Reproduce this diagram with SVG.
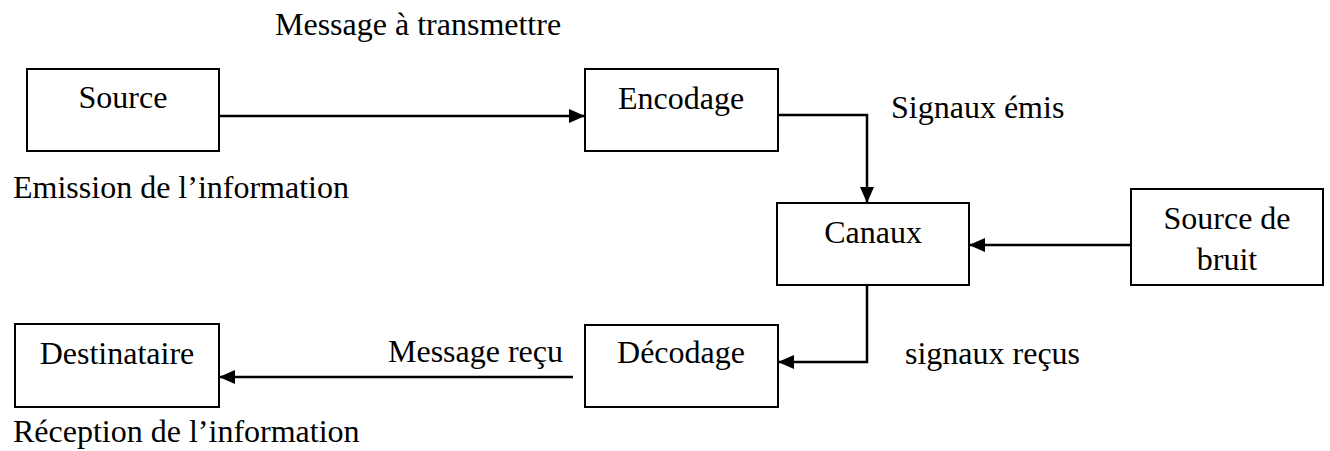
<svg xmlns="http://www.w3.org/2000/svg" width="1330" height="451" viewBox="0 0 1330 451">
  <style>
    .box { fill: #ffffff; stroke: #000000; stroke-width: 2; }
    .lbl { font-family: "Liberation Serif", "Times New Roman", serif; font-size: 32px; fill: #000000; }
    .mid { text-anchor: middle; }
    .end { text-anchor: end; }
    .conn { fill: none; stroke: #000000; stroke-width: 2.5; marker-end: url(#arrow); }
  </style>
  <defs>
    <marker id="arrow" markerUnits="userSpaceOnUse" markerWidth="17" markerHeight="15" refX="16" refY="7" orient="auto">
      <path d="M0,0 L16,7 L0,14 z" fill="#000000"/>
    </marker>
  </defs>
  <rect width="1330" height="451" fill="#ffffff"/>

  <g id="connectors">
    <path class="conn" d="M219,116 L585,116"/>
    <path class="conn" d="M778,115 L867,115 L867,203"/>
    <path class="conn" d="M1131,245 L969,245"/>
    <path class="conn" d="M867,285 L867,362 L778,362"/>
    <path class="conn" d="M573,377 L219,377"/>
  </g>

  <g id="source">
    <rect class="box" x="27" y="69" width="192" height="82"/>
    <text class="lbl mid" x="123" y="108">Source</text>
  </g>
  <g id="encodage">
    <rect class="box" x="585" y="69" width="193" height="82"/>
    <text class="lbl mid" x="681" y="109">Encodage</text>
  </g>
  <g id="canaux">
    <rect class="box" x="777" y="203" width="192" height="82"/>
    <text class="lbl mid" x="873" y="243">Canaux</text>
  </g>
  <g id="bruit">
    <rect class="box" x="1131" y="189" width="192" height="96"/>
    <text class="lbl mid" x="1227" y="229">Source de</text>
    <text class="lbl mid" x="1227" y="270">bruit</text>
  </g>
  <g id="decodage">
    <rect class="box" x="585" y="325" width="193" height="82"/>
    <text class="lbl mid" x="681" y="363">Décodage</text>
  </g>
  <g id="destinataire">
    <rect class="box" x="15" y="324" width="204" height="83"/>
    <text class="lbl mid" x="117" y="364">Destinataire</text>
  </g>

  <g id="labels">
    <text class="lbl" x="275" y="35">Message à transmettre</text>
    <text class="lbl" x="13" y="198">Emission de l’information</text>
    <text class="lbl" x="891" y="118">Signaux émis</text>
    <text class="lbl" x="905" y="364">signaux reçus</text>
    <text class="lbl end" x="563" y="362">Message reçu</text>
    <text class="lbl" x="13" y="442">Réception de l’information</text>
  </g>
</svg>
